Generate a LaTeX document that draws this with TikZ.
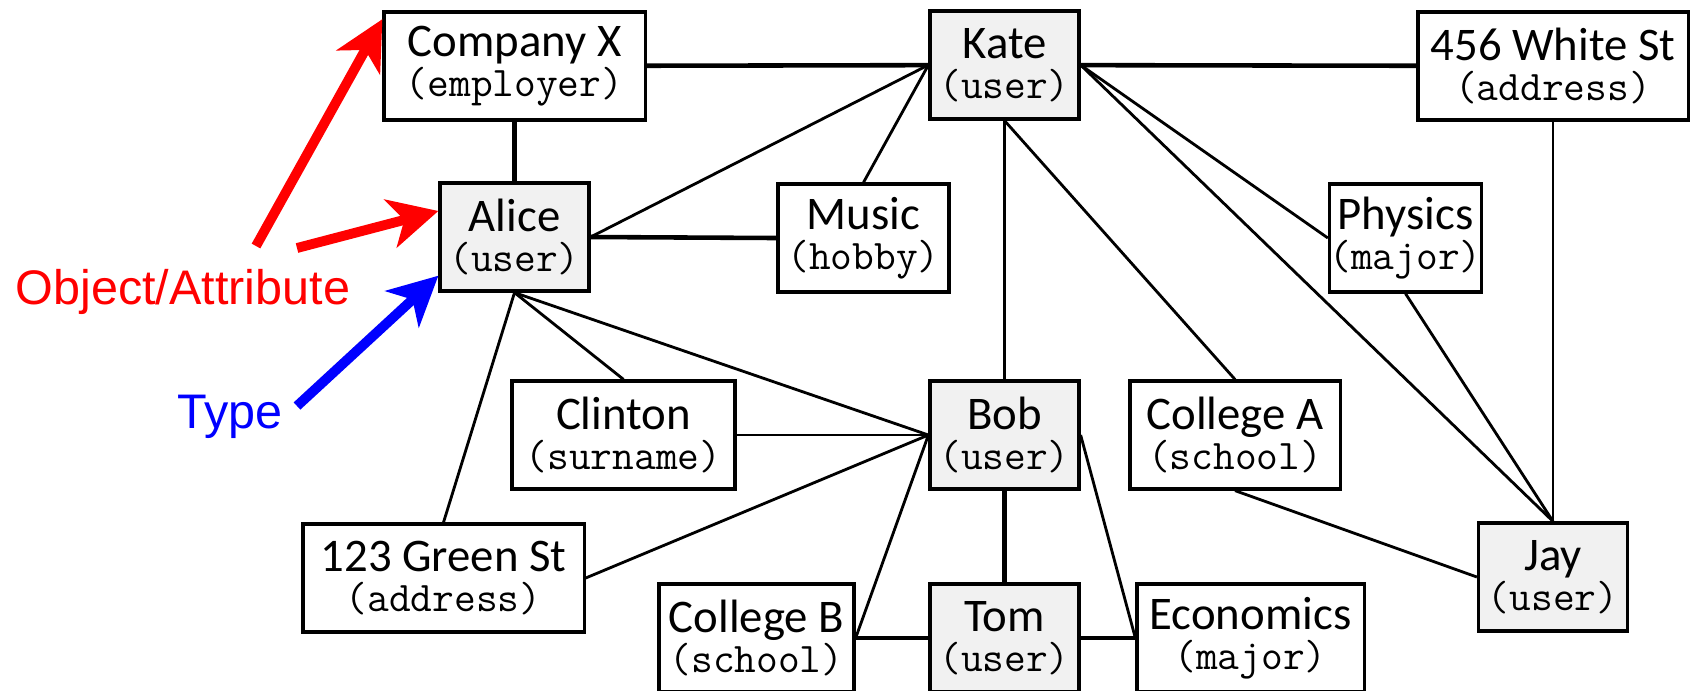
\documentclass[tikz,border=0pt]{standalone}
\usepackage{fontspec}
\setmainfont{Carlito}
\newfontfamily\arialfont{Liberation Sans}
\usetikzlibrary{arrows.meta}

\definecolor{userfill}{HTML}{F1F1F1}
\newcommand{\kind}[1]{{\ttfamily\fontsize{12}{11.4}\selectfont(#1)}}

\begin{document}
\begin{tikzpicture}[x=0.01cm, y=-0.01cm,
    entity/.style={draw, line width=0.9pt, align=center, minimum height=1.08cm,
        inner sep=0pt, font=\fontsize{13.3}{11.4}\selectfont},
    user/.style={entity, fill=userfill, minimum width=1.49cm},
    link/.style={line width=0.8pt},
    strong link/.style={line width=1.3pt},
    pointer/.style={line width=2.8pt, -{Stealth[length=14pt, width=14pt, inset=4pt]}}]
    \useasboundingbox (0, 0) rectangle (1695, 690);

    % Users
    \node[user] (kate)  at (1004.5, 65)  {Kate\\\kind{user}};
    \node[user] (alice) at (514.5, 237)  {Alice\\\kind{user}};
    \node[user] (bob)   at (1004.5, 435) {Bob\\\kind{user}};
    \node[user] (jay)   at (1553, 577)   {Jay\\\kind{user}};
    \node[user] (tom)   at (1004.5, 638) {Tom\\\kind{user}};

    % Attributes
    \node[entity, minimum width=2.61cm] (compx)   at (514.5, 66)  {Company X\\\kind{employer}};
    \node[entity, minimum width=2.70cm] (white)   at (1553, 66)   {456 White St\\\kind{address}};
    \node[entity, minimum width=1.71cm] (music)   at (863.5, 238) {Music\\\kind{hobby}};
    \node[entity, minimum width=1.51cm] (physics) at (1405.5, 238) {Physics\\\kind{major}};
    \node[entity, minimum width=2.23cm] (clinton) at (623.5, 435) {Clinton\\\kind{surname}};
    \node[entity, minimum width=2.10cm] (colla)   at (1235, 435)  {College A\\\kind{school}};
    \node[entity, minimum width=2.81cm] (green)   at (443.5, 578) {123 Green St\\\kind{address}};
    \node[entity, minimum width=1.95cm] (collb)   at (756.5, 638) {College B\\\kind{school}};
    \node[entity, minimum width=2.27cm] (econ)    at (1250.5, 638) {Economics\\\kind{major}};

    % Links
    \foreach \a/\b in {compx/kate, kate/white, compx/alice, alice.east/music.west,
        bob/tom, collb.east/tom.west, tom.east/econ.west} {
        \draw[strong link] (\a) -- (\b);
    }
    \foreach \a/\b in {alice.east/kate.west, music.north/kate.west, kate/bob,
        kate.south/colla.north, kate.east/physics.west, kate.east/jay.north,
        physics.south/jay.north, white/jay, alice.south/clinton.north,
        alice.south/bob.west, alice.south/green.north, clinton.east/bob.west,
        green.east/bob.west, collb.east/bob.west, bob.east/econ.west,
        colla.south/jay.west} {
        \draw[link] (\a) -- (\b);
    }

    % Legend
    \node[anchor=base west, inner sep=0pt, text=red, font=\arialfont\fontsize{13.8}{16}\selectfont]
        (objlabel) at (15, 304) {Object/Attribute};
    \node[anchor=base west, inner sep=0pt, text=blue, font=\arialfont\fontsize{13.8}{16}\selectfont]
        (typelabel) at (177, 428) {Type};
    \coordinate (objtail1) at (256, 246);
    \coordinate (objtail2) at (297, 248);
    \coordinate (typetail) at (297, 406);
    \draw[pointer, red] (objtail1) -- ([yshift=-2.5pt]compx.north west);
    \draw[pointer, red] (objtail2) -- ([yshift=7.4pt]alice.west);
    \draw[pointer, blue] (typetail) -- ([yshift=-11pt]alice.west);
\end{tikzpicture}
\end{document}
